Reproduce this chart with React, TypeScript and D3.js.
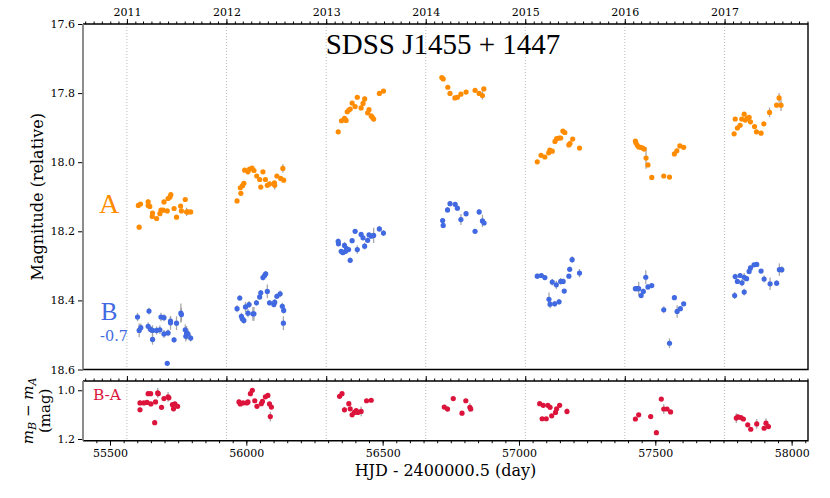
import * as d3 from 'd3';
import React, { useRef, useEffect } from 'react';

// [HJD-2400000.5, magnitude, error]
const imageA = [
  [55604,18.125,.004],[55612,18.121,.004],[55607,18.188,.004],[55640,18.115,.008],[55640,18.125,.004],[55646,18.128,.004],[55656,18.147,.004],[55655,18.157,.004],[55671,18.163,.004],[55683,18.149,.004],[55687,18.139,.004],[55695,18.139,.004],[55698,18.115,.004],[55710,18.141,.004],[55713,18.105,.004],[55720,18.101,.004],[55723,18.094,.004],[55735,18.134,.004],[55744,18.159,.004],[55759,18.127,.004],[55762,18.141,.004],[55776,18.108,.004],[55781,18.144,.012],[55786,18.144,.004],[55796,18.144,.004],
  [55966,18.112,.004],[55978,18.074,.004],[55980,18.090,.004],[55986,18.068,.004],[55991,18.061,.004],[55994,18.023,.004],[56006,18.028,.004],[56012,18.020,.004],[56021,18.017,.004],[56028,18.024,.004],[56038,18.040,.004],[56049,18.050,.004],[56053,18.072,.004],[56061,18.028,.004],[56070,18.050,.004],[56077,18.067,.004],[56085,18.063,.004],[56103,18.060,.004],[56104,18.067,.012],[56112,18.040,.004],[56126,18.047,.004],[56134,18.018,.012],[56137,18.052,.004],
  [56337,17.912,.005],[56349,17.880,.004],[56360,17.873,.004],[56366,17.879,.004],[56370,17.854,.004],[56376,17.849,.004],[56381,17.846,.004],[56388,17.829,.004],[56399,17.839,.004],[56407,17.812,.004],[56421,17.843,.004],[56428,17.830,.004],[56434,17.817,.008],[56445,17.857,.004],[56450,17.848,.004],[56458,17.866,.004],[56462,17.870,.004],[56467,17.875,.008],[56488,17.801,.004],[56503,17.794,.004],
  [56717,17.755,.004],[56722,17.759,.004],[56739,17.783,.004],[56747,17.801,.004],[56765,17.814,.004],[56774,17.812,.004],[56787,17.803,.004],[56806,17.797,.004],[56839,17.792,.004],[56854,17.801,.004],[56866,17.807,.012],[56871,17.788,.004],
  [57067,17.999,.004],[57081,17.980,.004],[57095,17.985,.004],[57109,17.973,.004],[57113,17.965,.004],[57122,17.968,.004],[57132,17.940,.004],[57138,17.932,.004],[57147,17.930,.004],[57153,17.930,.004],[57161,17.910,.004],[57168,17.914,.004],[57183,17.950,.004],[57187,17.946,.008],[57197,17.933,.004],[57222,17.959,.004],
  [57427,17.939,.006],[57429,17.944,.004],[57434,17.951,.004],[57439,17.956,.004],[57446,17.957,.004],[57454,17.959,.004],[57459,17.962,.004],[57466,17.988,.031],[57473,18.008,.004],[57487,18.044,.006],[57531,18.040,.004],[57552,18.043,.004],[57570,17.976,.004],[57579,17.967,.004],[57590,17.953,.004],[57604,17.957,.004],
  [57789,17.918,.004],[57793,17.875,.004],[57801,17.901,.004],[57811,17.893,.004],[57817,17.875,.004],[57826,17.861,.004],[57830,17.878,.004],[57837,17.873,.004],[57844,17.870,.004],[57849,17.883,.004],[57864,17.897,.004],[57871,17.912,.004],[57888,17.916,.004],[57898,17.889,.004],[57919,17.856,.014],[57945,17.835,.004],[57954,17.814,.014],[57961,17.835,.017],
];

const imageB = [
  [55601,19.148,.012],[55607,19.187,.02],[55613,19.179,.012],[55640,19.175,.012],[55643,19.131,.01],[55649,19.184,.01],[55656,19.187,.015],[55656,19.213,.015],[55671,19.187,.012],[55683,19.185,.012],[55687,19.148,.012],[55698,19.150,.01],[55698,19.197,.012],[55710,19.282,.006],[55713,19.194,.01],[55722,19.160,.012],[55722,19.165,.02],[55735,19.214,.008],[55744,19.166,.02],[55760,19.137,.028],[55762,19.141,.02],[55776,19.185,.015],[55781,19.194,.02],[55778,19.204,.015],[55786,19.197,.015],[55796,19.209,.01],
  [55966,19.124,.01],[55976,19.093,.008],[55982,19.146,.01],[55985,19.153,.01],[55991,19.158,.01],[55997,19.119,.015],[56006,19.137,.012],[56010,19.112,.01],[56024,19.139,.02],[56028,19.139,.02],[56037,19.107,.008],[56049,19.090,.008],[56053,19.078,.008],[56061,19.034,.008],[56067,19.028,.008],[56071,19.023,.008],[56077,19.074,.02],[56085,19.107,.008],[56101,19.112,.008],[56104,19.105,.008],[56112,19.088,.008],[56124,19.081,.01],[56132,19.117,.01],[56137,19.129,.01],[56136,19.166,.02],
  [56337,18.929,.008],[56338,18.936,.008],[56348,18.958,.006],[56354,18.962,.006],[56360,18.941,.01],[56364,18.958,.006],[56368,18.950,.006],[56375,18.953,.006],[56381,18.984,.008],[56388,18.927,.006],[56399,18.900,.006],[56407,18.953,.012],[56421,18.909,.006],[56428,18.919,.006],[56434,18.943,.01],[56445,18.926,.008],[56450,18.910,.006],[56458,18.914,.006],[56467,18.912,.022],[56488,18.893,.008],[56503,18.905,.008],
  [56720,18.869,.008],[56722,18.883,.006],[56738,18.838,.008],[56747,18.820,.006],[56766,18.822,.006],[56774,18.833,.006],[56787,18.866,.016],[56806,18.849,.008],[56839,18.900,.006],[56854,18.844,.008],[56866,18.870,.018],[56872,18.876,.006],
  [57067,19.030,.008],[57082,19.028,.006],[57095,19.034,.006],[57110,19.097,.02],[57114,19.111,.012],[57122,19.047,.01],[57131,19.110,.008],[57137,19.055,.012],[57147,19.104,.008],[57153,19.045,.01],[57162,19.045,.008],[57166,19.073,.006],[57183,19.030,.006],[57186,19.010,.008],[57195,18.982,.01],[57222,19.021,.012],
  [57427,19.066,.006],[57433,19.066,.006],[57439,19.066,.02],[57448,19.086,.006],[57456,19.074,.008],[57465,19.033,.02],[57473,19.061,.008],[57487,19.057,.006],[57531,19.127,.01],[57552,19.224,.014],[57570,19.092,.006],[57580,19.132,.018],[57592,19.124,.006],[57604,19.110,.006],
  [57791,19.086,.01],[57793,19.031,.008],[57801,19.045,.006],[57811,19.028,.006],[57818,19.049,.01],[57826,19.076,.01],[57826,19.033,.012],[57835,19.037,.006],[57844,19.016,.008],[57849,19.006,.008],[57862,18.997,.006],[57872,18.996,.006],[57888,19.015,.006],[57899,19.038,.01],[57921,19.052,.018],[57945,19.050,.008],[57955,19.011,.018],[57964,19.011,.01],
];

const diffBA = [
  [55610,1.052,.01],[55610,1.080,.01],[55624,1.052,.006],[55636,1.050,.006],[55640,1.014,.008],[55649,1.014,.006],[55650,1.056,.006],[55664,1.133,.004],[55667,1.048,.006],[55675,1.011,.02],[55677,1.014,.006],[55689,1.070,.006],[55698,1.034,.006],[55713,1.027,.02],[55716,1.031,.01],[55729,1.059,.01],[55733,1.076,.01],[55738,1.056,.01],[55748,1.066,.006],
  [55973,1.048,.01],[55978,1.056,.006],[55988,1.052,.006],[56002,1.052,.006],[56006,1.048,.006],[56015,1.014,.006],[56022,1.000,.006],[56031,1.043,.006],[56039,1.066,.006],[56055,1.055,.006],[56059,1.046,.006],[56070,1.027,.006],[56079,1.021,.006],[56085,1.056,.006],[56092,1.069,.008],[56088,1.108,.02],
  [56342,1.025,.006],[56351,1.014,.006],[56360,1.080,.012],[56376,1.055,.006],[56381,1.076,.006],[56388,1.101,.006],[56396,1.091,.006],[56403,1.083,.006],[56409,1.091,.006],[56421,1.087,.02],[56441,1.043,.006],[56458,1.041,.006],
  [56726,1.069,.006],[56738,1.077,.012],[56759,1.034,.006],[56791,1.094,.006],[56805,1.043,.006],[56820,1.070,.018],[56823,1.077,.006],
  [57076,1.055,.008],[57085,1.117,.006],[57089,1.062,.01],[57100,1.117,.006],[57106,1.062,.006],[57114,1.070,.006],[57120,1.105,.006],[57134,1.091,.006],[57138,1.076,.006],[57149,1.062,.006],[57176,1.087,.012],
  [57427,1.118,.006],[57439,1.101,.006],[57483,1.108,.01],[57504,1.174,.01],[57522,1.036,.006],[57531,1.077,.02],[57543,1.077,.006],[57556,1.089,.006],
  [57797,1.114,.02],[57803,1.109,.01],[57814,1.112,.006],[57823,1.118,.006],[57839,1.142,.006],[57850,1.160,.006],[57872,1.138,.02],[57899,1.156,.006],[57906,1.135,.02],[57915,1.149,.01],
];

const bOffset = 0.7;
const magTicks = [17.6, 17.8, 18.0, 18.2, 18.4, 18.6];
const diffTicks = [1.0, 1.2];
const hjdTicks = [55500, 56000, 56500, 57000, 57500, 58000];

const W = 830, H = 498;
const L = 83, R = 808;
const mainTop = 24, mainBot = 369.5;
const lowTop = 381, lowBot = 440.7;
const serif = 'DejaVu Serif';

const mjdToDate = (m: number) => new Date((m - 40587) * 86400000);

function App() {
  const ref = useRef<SVGSVGElement>(null);

  useEffect(() => {
    const svg = d3.select(ref.current);
    svg.selectAll('*').remove();

    const x = d3.scaleLinear().domain([55401, 58060]).range([L, R]);
    const xt = d3.scaleUtc().domain([mjdToDate(55401), mjdToDate(58060)]).range([L, R]);
    const y = d3.scaleLinear().domain([17.6, 18.6]).range([mainTop, mainBot]);
    const y2 = d3.scaleLinear().domain([0.962, 1.207]).range([lowTop, lowBot]);

    const years = xt.ticks(d3.utcYear);
    const months = xt.ticks(d3.utcMonth);

    // year boundaries
    [[mainTop, mainBot], [lowTop, lowBot]].forEach(([t, b]) => {
      svg.append('g').selectAll('line').data(years).enter().append('line')
        .attr('x1', d => xt(d)).attr('x2', d => xt(d)).attr('y1', t).attr('y2', b)
        .attr('stroke', '#aaa').attr('stroke-width', 0.8).attr('stroke-dasharray', '1,2');
    });

    const drawPts = (data: number[][], ys: any, color: string, shift = 0) => {
      const g = svg.append('g');
      g.selectAll('line').data(data).enter().append('line')
        .attr('x1', d => x(d[0])).attr('x2', d => x(d[0]))
        .attr('y1', d => ys(d[1] - shift - d[2])).attr('y2', d => ys(d[1] - shift + d[2]))
        .attr('stroke', '#999').attr('stroke-width', 1.3).attr('opacity', 0.85);
      g.selectAll('circle').data(data).enter().append('circle')
        .attr('cx', d => x(d[0])).attr('cy', d => ys(d[1] - shift))
        .attr('r', 2.6).attr('fill', color);
    };
    drawPts(imageA, y, '#ff8c00');
    drawPts(imageB, y, '#4169e1', bOffset);
    drawPts(diffBA, y2, '#dc143c');

    const styleAxis = (g: any) => {
      g.selectAll('text').attr('font-family', serif).attr('font-size', 11).attr('fill', '#000');
      g.selectAll('line').attr('stroke', '#000');
      g.select('.domain').remove();
    };

    // year axes (top of each panel)
    svg.append('g').attr('transform', `translate(0,${mainTop})`)
      .call(d3.axisTop(xt).tickValues(months).tickSize(2.5).tickFormat(() => '')).call(styleAxis);
    svg.append('g').attr('transform', `translate(0,${mainTop})`)
      .call(d3.axisTop(xt).tickValues(years).tickSize(5).tickPadding(3).tickFormat(d3.utcFormat('%Y'))).call(styleAxis);
    svg.append('g').attr('transform', `translate(0,${lowTop})`)
      .call(d3.axisTop(xt).tickValues(months).tickSize(2.5).tickFormat(() => '')).call(styleAxis);
    svg.append('g').attr('transform', `translate(0,${lowTop})`)
      .call(d3.axisTop(xt).tickValues(years).tickSize(5).tickFormat(() => '')).call(styleAxis);

    // HJD axis
    svg.append('g').attr('transform', `translate(0,${lowBot})`)
      .call(d3.axisBottom(x).tickValues(d3.range(55450, 58060, 50)).tickSize(2.5).tickFormat(() => '')).call(styleAxis);
    svg.append('g').attr('transform', `translate(0,${lowBot})`)
      .call(d3.axisBottom(x).tickValues(hjdTicks).tickSize(5).tickPadding(4).tickFormat(d3.format('d'))).call(styleAxis);

    // y axes
    svg.append('g').attr('transform', `translate(${L},0)`)
      .call(d3.axisLeft(y).tickValues(magTicks).tickSize(5).tickPadding(3).tickFormat(d3.format('.1f'))).call(styleAxis);
    svg.append('g').attr('transform', `translate(${L},0)`)
      .call(d3.axisLeft(y2).tickValues(diffTicks).tickSize(5).tickPadding(3).tickFormat(d3.format('.1f'))).call(styleAxis);

    // frames
    [[mainTop, mainBot], [lowTop, lowBot]].forEach(([t, b]) => {
      svg.append('path').attr('d', `M${L},${t}H${R}V${b}H${L}`)
        .attr('fill', 'none').attr('stroke', '#000').attr('stroke-width', 1.4);
      svg.append('line').attr('x1', L).attr('x2', L).attr('y1', t).attr('y2', b)
        .attr('stroke', '#808080').attr('stroke-width', 1.8);
    });

    // texts
    svg.append('text').attr('x', 443).attr('y', 54).attr('text-anchor', 'middle')
      .attr('font-family', 'Liberation Serif').attr('font-size', 29).text('SDSS J1455 + 1447');
    svg.append('text').attr('x', 109).attr('y', 213).attr('text-anchor', 'middle')
      .attr('font-family', 'Liberation Serif').attr('font-size', 28).attr('fill', '#ff8c00').text('A');
    svg.append('text').attr('x', 109).attr('y', 320).attr('text-anchor', 'middle')
      .attr('font-family', 'Liberation Serif').attr('font-size', 25).attr('fill', '#4169e1').text('B');
    svg.append('text').attr('x', 114).attr('y', 341).attr('text-anchor', 'middle')
      .attr('font-family', serif).attr('font-size', 14.5).attr('fill', '#4169e1').text('-' + bOffset);
    svg.append('text').attr('x', 107).attr('y', 400).attr('text-anchor', 'middle')
      .attr('font-family', serif).attr('font-size', 15.5).attr('fill', '#dc143c').text('B-A');

    svg.append('text').attr('transform', `translate(43,${(mainTop + mainBot) / 2}) rotate(-90)`)
      .attr('text-anchor', 'middle').attr('font-family', serif).attr('font-size', 16).text('Magnitude (relative)');
    svg.append('text').attr('x', (L + R) / 2).attr('y', 476).attr('text-anchor', 'middle')
      .attr('font-family', serif).attr('font-size', 16).text('HJD - 2400000.5 (day)');

    const lab = svg.append('text').attr('transform', `translate(33,${(lowTop + lowBot) / 2}) rotate(-90)`)
      .attr('text-anchor', 'middle').attr('font-family', serif).attr('font-size', 15);
    lab.append('tspan').attr('font-style', 'italic').text('m');
    lab.append('tspan').attr('font-style', 'italic').attr('font-size', 11).attr('dy', 3).text('B');
    lab.append('tspan').attr('dy', -3).text(' \u2212 ');
    lab.append('tspan').attr('font-style', 'italic').text('m');
    lab.append('tspan').attr('font-style', 'italic').attr('font-size', 11).attr('dy', 3).text('A');
    svg.append('text').attr('transform', `translate(50,${(lowTop + lowBot) / 2}) rotate(-90)`)
      .attr('text-anchor', 'middle').attr('font-family', serif).attr('font-size', 15).text('(mag)');
  }, []);

  return (
    <svg ref={ref} width={W} height={H} style={{ position: 'absolute', left: 0, top: 0, background: '#fff' }} />
  );
}

export default App;
